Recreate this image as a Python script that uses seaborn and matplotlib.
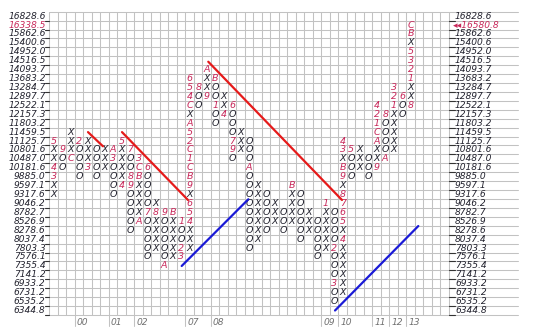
import matplotlib
matplotlib.use("Agg")
import matplotlib.pyplot as plt
import seaborn as sns
import pandas as pd

# price levels (box values), bottom row to top row
levels = [6344.8, 6535.2, 6731.2, 6933.2, 7141.2, 7355.4, 7576.1, 7803.3, 8037.4,
          8278.6, 8526.9, 8782.7, 9046.2, 9317.6, 9597.1, 9885.0, 10181.6, 10487.0,
          10801.6, 11125.7, 11459.5, 11803.2, 12157.3, 12522.1, 12897.7, 13284.7,
          13683.2, 14093.7, 14516.5, 14952.0, 15400.6, 15862.6, 16338.5, 16828.6]
last_price = "16580.8"
last_row = 32

# point & figure columns: (lowest row, symbols from bottom to top); digits/A-C = month marks
columns = [
    (13, "XX34XX5"), (16, "OO9"), (17, "CXXX"), (15, "OOOO2"), (16, "3XXX"),
    (15, "OOOO"), (16, "XXX"), (13, "OOOO3A"), (14, "4XXXX5"), (9, "OOOOO98OO7"),
    (10, "AXXXXBC3"), (6, "OOOOO7OOOO6"), (7, "XXXX8X"), (5, "AOOOOO9"), (6, "XXXXXB"),
    (6, "32OO1"), (7, "XXX456X9BC1C25AXC456"), (23, "OO8"), (24, "9XXA"), (21, "OO1OOB"),
    (22, "4XX"), (17, "O97OOO6"), (18, "XXX"), (7, "OOOOOOOOOAOOO"), (8, "XXXXXXX"),
    (9, "OOOOO"), (10, "XXX"), (9, "OOO"), (10, "XXXXB"), (8, "OOOOOO"),
    (9, "XXX"), (6, "OOOOO"), (7, "XXXXX1"), (1, "OO3OOO2OOOO"), (2, "XXXXXX4X5678X9BX34"),
    (15, "OOO5"), (16, "XXX"), (15, "OOO"), (16, "9XXAC124"), (17, "AOOOO8"),
    (18, "XXXXX123"), (22, "OO6"), (23, "8XX1235XBC"),
]

year_labels = ["00", "01", "02", "07", "08", "09", "10", "11", "12", "13"]
year_cols = [3, 7, 10, 16, 19, 32, 34, 38, 40, 42]

# trend lines in (column, row) units
red_lines = [((4.03, 20.0), (5.79, 18.41)), ((8.03, 20.0), (15.79, 12.39)),
             ((18.18, 27.89), (33.91, 12.39))]
blue_lines = [((15.05, 4.99), (22.89, 12.47)), ((33.09, 0.0), (42.89, 9.47))]

W, H = 553, 333
x0, cw = 53.75, 8.5          # pixel x of column 0, column width
y0, rh = 310.5, 8.92         # pixel y of row 0, row height
grid_cols = 47
right_px = 518
xmax = (right_px - x0) / cw

fig = plt.figure(figsize=(W / 100, H / 100), dpi=100)
sns.set_theme(style="white")
plt.rcParams['font.family'] = ['DejaVu Sans']
left_px = x0 - 0.5 * cw
top_px = y0 - 33.5 * rh
bot_px = y0 + 0.5 * rh
ax = fig.add_axes([left_px / W, (H - bot_px) / H, (right_px - left_px) / W, (bot_px - top_px) / H])

gc = "#c2c2c2"
for r in range(35):
    ax.plot([-0.5, xmax], [r - 0.5, r - 0.5], color=gc, lw=0.75, zorder=1, clip_on=False)
for c in range(grid_cols + 1):
    ax.plot([c - 0.5, c - 0.5], [-0.5, 33.5], color=gc, lw=0.75, zorder=1, clip_on=False)

mark_col = "#c8285a"
ink = "#22222e"
for c, (r0, s) in enumerate(columns):
    for i, ch in enumerate(s):
        col = ink if ch in "XO" else mark_col
        ax.text(c, r0 + i, ch, ha="center", va="center", fontsize=6.8, style="italic",
                color=col, zorder=3)

# price labels both sides
lx = (45.5 - x0) / cw
rx = (455.0 - x0) / cw
for r, v in enumerate(levels):
    lab_col = mark_col if r == last_row else ink
    ax.text(lx, r, f"{v:.1f}", ha="right", va="center", fontsize=6.6, style="italic",
            color=lab_col, zorder=3, clip_on=False)
    ax.plot([lx, -0.5], [r - 0.5, r - 0.5], color="#333333", lw=0.8, clip_on=False)
    ax.plot([grid_cols - 0.5, rx], [r - 0.5, r - 0.5], color="#333333", lw=0.8, clip_on=False)
    rt = ("\u25c2\u25c2" + last_price) if r == last_row else f"{v:.1f}"
    ax.text(rx - (0.25 if r == last_row else 0), r, rt, ha="left", va="center", fontsize=6.6,
            style="italic", color=lab_col, zorder=3, clip_on=False)

for lab, c in zip(year_labels, year_cols):
    ax.plot([c - 0.5, c - 0.5], [-0.5, -1.7], color=gc, lw=0.75, clip_on=False)
    ax.text(c + 0.4, -1.3, lab, ha="center", va="center", fontsize=6.6, style="italic",
            color="#707070", clip_on=False)

rows = []
for i, ((a, b), (c, d)) in enumerate(red_lines):
    rows += [dict(x=a, y=b, g=f"r{i}"), dict(x=c, y=d, g=f"r{i}")]
for i, ((a, b), (c, d)) in enumerate(blue_lines):
    rows += [dict(x=a, y=b, g=f"b{i}"), dict(x=c, y=d, g=f"b{i}")]
df = pd.DataFrame(rows)
pal = {g: ("#e51a1a" if g.startswith("r") else "#1a1ad6") for g in df.g.unique()}
sns.lineplot(data=df, x="x", y="y", hue="g", units="g", estimator=None, palette=pal,
             lw=1.6, legend=False, ax=ax, sort=False, zorder=4)
ax.set_xlim(-0.5, xmax)
ax.set_ylim(-0.5, 33.5)
ax.axis("off")

fig.savefig("out.png", dpi=100)
